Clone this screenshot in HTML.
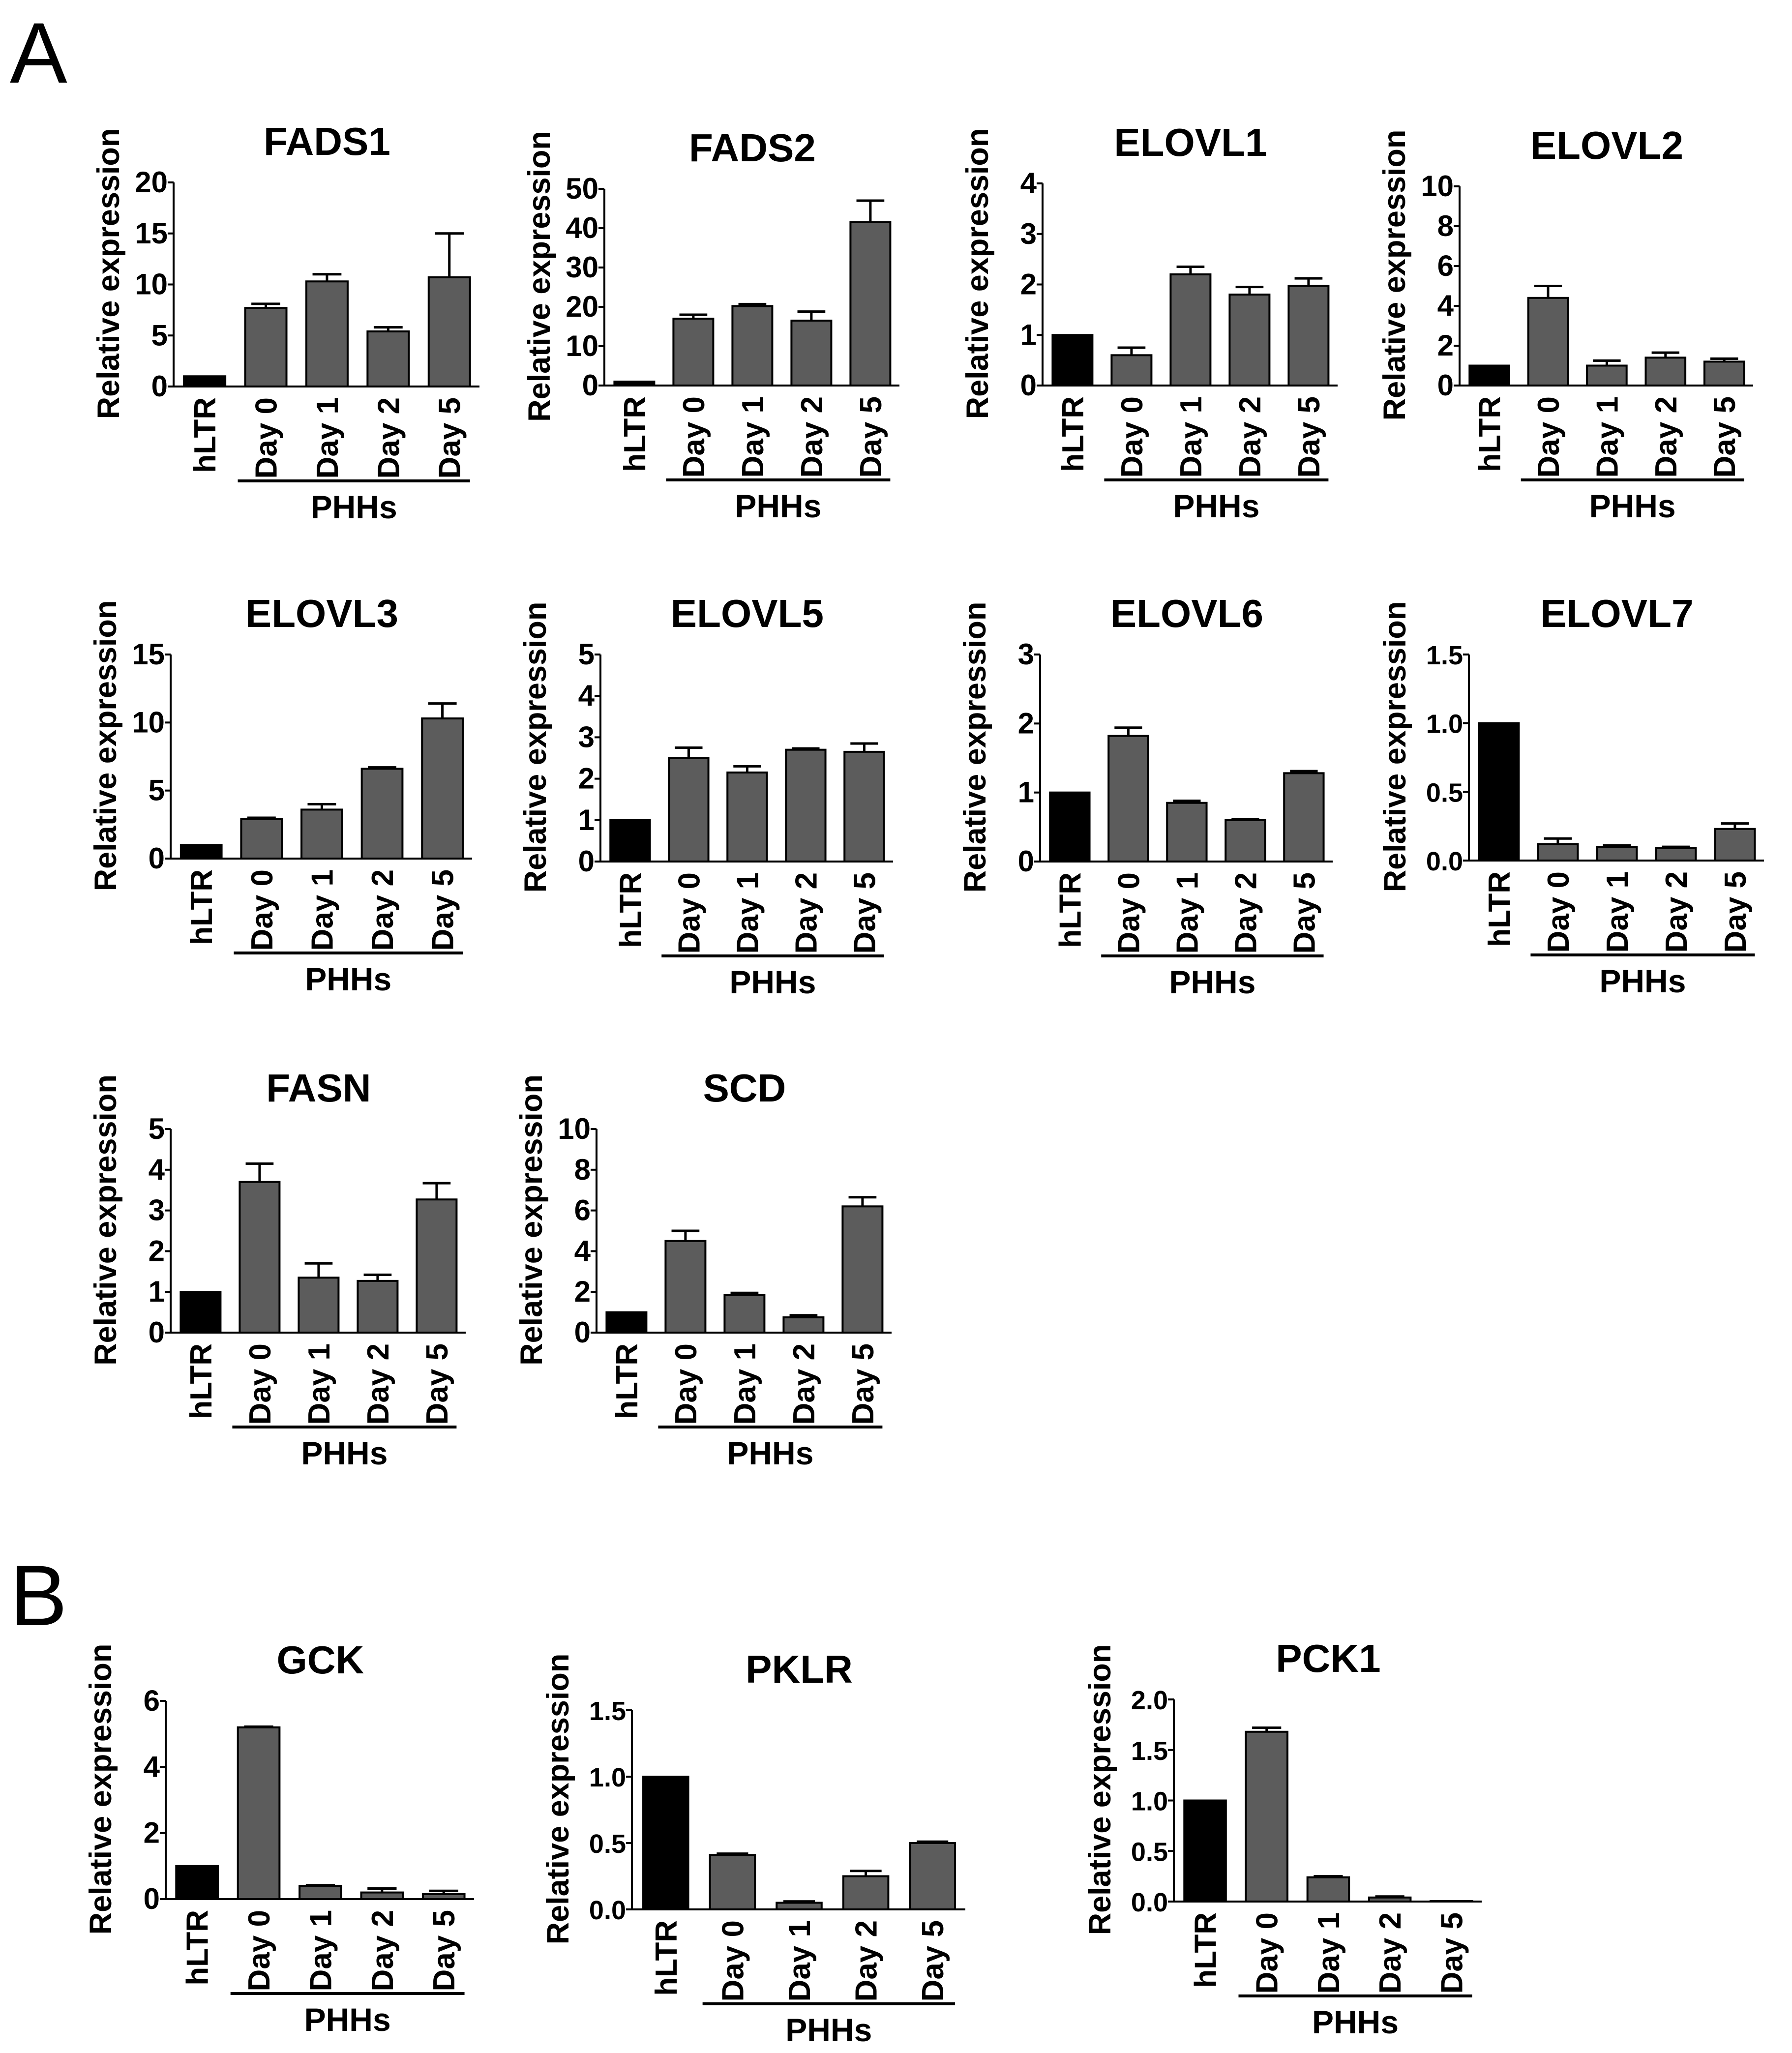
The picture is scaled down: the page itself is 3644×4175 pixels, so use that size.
<!DOCTYPE html>
<html><head><meta charset="utf-8">
<style>
html,body{margin:0;padding:0;background:#fff;}
svg{display:block;font-family:"Liberation Sans",Arial,sans-serif;}
</style></head>
<body>
<svg id="fig" width="3644" height="4175" viewBox="0 0 3644 4175" xmlns="http://www.w3.org/2000/svg">
<text x="20" y="168" font-size="175">A</text>
<text x="20" y="3305" font-size="175">B</text>
</svg>
<script>
const categories = ["hLTR","Day 0","Day 1","Day 2","Day 5"];
const geneNames = ["FADS1","FADS2","ELOVL1","ELOVL2","ELOVL3","ELOVL5","ELOVL6","ELOVL7","FASN","SCD","GCK","PKLR","PCK1"];
const valFADS1 = [1,7.7,10.3,5.4,10.7];   const errFADS1 = [0,0.4,0.7,0.4,4.3];
const valFADS2 = [1,17,20.2,16.5,41.5];   const errFADS2 = [0,1,0.5,2.3,5.5];
const valELOVL1 = [1,0.6,2.2,1.8,1.97];   const errELOVL1 = [0,0.15,0.15,0.15,0.15];
const valELOVL2 = [1,4.4,1.0,1.4,1.2];    const errELOVL2 = [0,0.6,0.25,0.25,0.15];
const valELOVL3 = [1,2.9,3.6,6.6,10.3];   const errELOVL3 = [0,0.1,0.4,0.1,1.1];
const valELOVL5 = [1,2.5,2.15,2.7,2.65];  const errELOVL5 = [0,0.25,0.15,0.03,0.2];
const valELOVL6 = [1,1.82,0.85,0.6,1.28]; const errELOVL6 = [0,0.12,0.03,0.01,0.03];
const valELOVL7 = [1,0.12,0.1,0.09,0.23]; const errELOVL7 = [0,0.04,0.01,0.01,0.04];
const valFASN = [1,3.7,1.35,1.27,3.27];   const errFASN = [0,0.45,0.35,0.15,0.4];
const valSCD = [1,4.5,1.85,0.75,6.2];     const errSCD = [0,0.5,0.1,0.1,0.45];
const valGCK = [1,5.2,0.4,0.2,0.15];      const errGCK = [0,0.02,0.02,0.12,0.1];
const valPKLR = [1,0.41,0.05,0.25,0.5];   const errPKLR = [0,0.01,0.01,0.04,0.01];
const valPCK1 = [1,1.68,0.24,0.04,0.005]; const errPCK1 = [0,0.04,0.01,0.01,0];
const tickFADS1 = ["0","5","10","15","20"];
const tickFADS2 = ["0","10","20","30","40","50"];
const tickELOVL1 = ["0","1","2","3","4"];
const tickELOVL2 = ["0","2","4","6","8","10"];
const tickELOVL3 = ["0","5","10","15"];
const tickELOVL5 = ["0","1","2","3","4","5"];
const tickELOVL6 = ["0","1","2","3"];
const tickELOVL7 = ["0.0","0.5","1.0","1.5"];
const tickFASN = ["0","1","2","3","4","5"];
const tickSCD = ["0","2","4","6","8","10"];
const tickGCK = ["0","2","4","6"];
const tickPKLR = ["0.0","0.5","1.0","1.5"];
const tickPCK1 = ["0.0","0.5","1.0","1.5","2.0"];

// layout (pixel frames; not data)
const frames = [
 [353,371,786,622],[1229,384,784,600],[2120,373,784,600],[2968,379,784,597],
 [347,1331,1746,613],[1221,1331,1752,595],[2115,1331,1752,595],[2987,1331,1750,600],
 [347,2296,2710,600],[1213,2296,2710,600],
 [337,3459,3862,627],[1285,3478,3883,678],[2387,3456,3867,626]
];
const vals=[valFADS1,valFADS2,valELOVL1,valELOVL2,valELOVL3,valELOVL5,valELOVL6,valELOVL7,valFASN,valSCD,valGCK,valPKLR,valPCK1];
const errs=[errFADS1,errFADS2,errELOVL1,errELOVL2,errELOVL3,errELOVL5,errELOVL6,errELOVL7,errFASN,errSCD,errGCK,errPKLR,errPCK1];
const ticks=[tickFADS1,tickFADS2,tickELOVL1,tickELOVL2,tickELOVL3,tickELOVL5,tickELOVL6,tickELOVL7,tickFASN,tickSCD,tickGCK,tickPKLR,tickPCK1];

const NS="http://www.w3.org/2000/svg";
const svg=document.getElementById("fig");
function mk(tag,attrs,parent){const e=document.createElementNS(NS,tag);for(const k in attrs)e.setAttribute(k,attrs[k]);(parent||svg).appendChild(e);return e;}

geneNames.forEach((name,ci)=>{
  const [ax,top,zero,L]=frames[ci];
  const tk=ticks[ci]; const maxV=parseFloat(tk[tk.length-1]);
  const dec=tk.some(s=>s.indexOf('.')>=0);
  const y=v=>zero-(v/maxV)*(zero-top);
  const pitch=L*0.2, bw=L*0.135, off=L*0.034;
  const xb=i=>ax+off+i*pitch;
  const g=mk("g",{});
  
  
  const t=mk("text",{x:ax+off+2*pitch+bw/2,y:top-56,"font-size":80,"font-weight":"bold","text-anchor":"middle"},g);
  t.textContent=name;
  
  
  const yt=mk("text",{transform:`translate(${ax-(dec?150:132)},${(top+zero)/2-22}) rotate(-90)`,"font-size":63,"font-weight":"bold","text-anchor":"middle","dominant-baseline":"central"},g);
  yt.textContent="Relative expression";
  
  
  const ya=mk("line",{x1:ax,y1:top,x2:ax,y2:zero+2,stroke:"#000","stroke-width":4},g);
  
  
  tk.forEach(lbl=>{
    const v=parseFloat(lbl); const yy=y(v);
    const tl=mk("line",{x1:ax-12,y1:yy,x2:ax,y2:yy,stroke:"#000","stroke-width":4},g);
    
    
    const tx=mk("text",{x:ax-12,y:yy+20,"font-size":dec?54:60,"font-weight":"bold","text-anchor":"end"},g);
    tx.textContent=lbl;
    
    
  });
  const v=vals[ci], e=errs[ci];
  v.forEach((val,i)=>{
    const x=xb(i);
    if(e[i]>0){
      const et=y(val+e[i]);
      const el=mk("line",{x1:x+bw/2,y1:y(val),x2:x+bw/2,y2:et,stroke:"#000","stroke-width":5},g);
      
      
      const ec=mk("line",{x1:x+bw*0.15,y1:et,x2:x+bw*0.85,y2:et,stroke:"#000","stroke-width":5},g);
      
      
    }
    const h=Math.max(zero-y(val),0.5);
    const r=mk("rect",{x:x,y:zero-h,width:bw,height:h,fill:i===0?"#000":"#5c5c5c",stroke:"#000","stroke-width":4},g);
    
    
    const cl=mk("text",{transform:`translate(${x+bw/2+22},${zero+22}) rotate(-90)`,"font-size":62,"font-weight":"bold","text-anchor":"end"},g);
    cl.textContent=categories[i];
    
    
  });
  const xa=mk("line",{x1:ax,y1:zero,x2:ax+L,y2:zero,stroke:"#000","stroke-width":4},g);
  
  
  const lx1=xb(1)-15, lx2=xb(4)+bw;
  const pl=mk("line",{x1:lx1,y1:zero+192,x2:lx2,y2:zero+192,stroke:"#000","stroke-width":6},g);
  
  
  const pt=mk("text",{x:(lx1+lx2)/2,y:zero+268,"font-size":66,"font-weight":"bold","text-anchor":"middle"},g);
  pt.textContent="PHHs";
  
  
});
</script>
</body></html>
